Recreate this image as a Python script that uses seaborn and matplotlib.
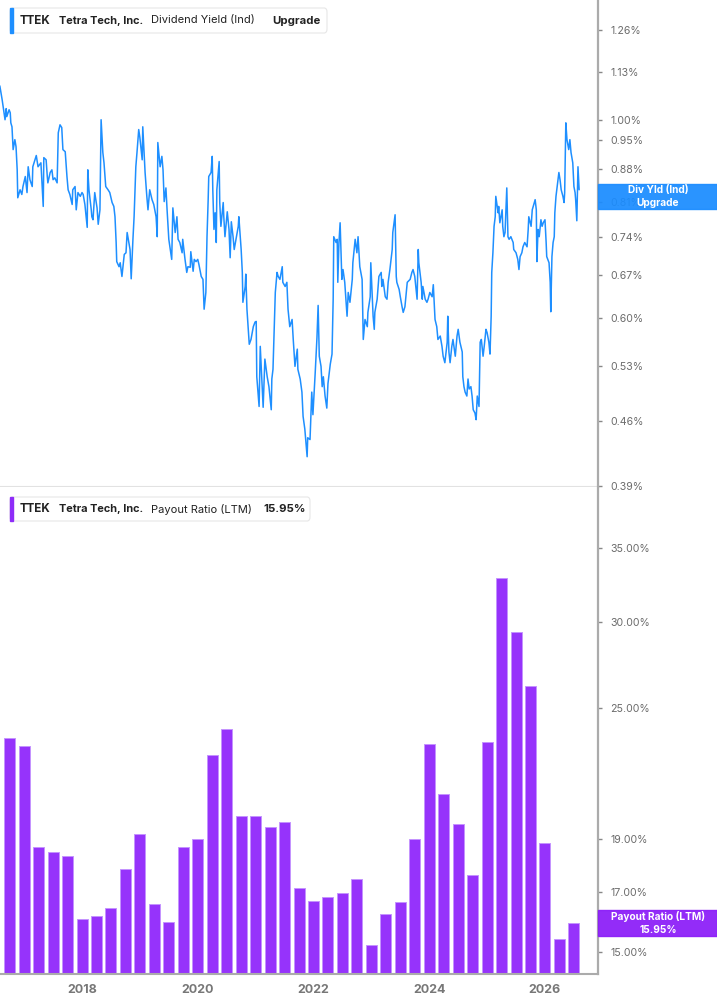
import pandas as pd
import seaborn as sns
import matplotlib.pyplot as plt
from matplotlib.patches import FancyBboxPatch, Rectangle
from matplotlib.ticker import NullLocator

# dividend yield (%); dates as decimal years
yield_date = [
    2016.58, 2016.62, 2016.65, 2016.67, 2016.69, 2016.70, 2016.74, 2016.76, 2016.77, 2016.79,
    2016.81, 2016.84, 2016.86, 2016.88, 2016.89, 2016.93, 2016.96, 2016.98, 2017.02, 2017.05,
    2017.07, 2017.10, 2017.14, 2017.15, 2017.21, 2017.24, 2017.29, 2017.33, 2017.34, 2017.38,
    2017.40, 2017.41, 2017.45, 2017.48, 2017.50, 2017.53, 2017.57, 2017.59, 2017.62, 2017.65,
    2017.67, 2017.71, 2017.74, 2017.76, 2017.79, 2017.83, 2017.84, 2017.88, 2017.90, 2017.93,
    2017.97, 2018.00, 2018.02, 2018.05, 2018.09, 2018.10, 2018.12, 2018.16, 2018.17, 2018.19,
    2018.22, 2018.26, 2018.28, 2018.31, 2018.33, 2018.36, 2018.38, 2018.41, 2018.45, 2018.48,
    2018.52, 2018.55, 2018.57, 2018.59, 2018.60, 2018.64, 2018.66, 2018.69, 2018.73, 2018.76,
    2018.78, 2018.81, 2018.83, 2018.85, 2018.88, 2018.90, 2018.93, 2018.95, 2018.98, 2019.00,
    2019.04, 2019.05, 2019.09, 2019.12, 2019.14, 2019.17, 2019.21, 2019.24, 2019.28, 2019.30,
    2019.31, 2019.35, 2019.38, 2019.40, 2019.42, 2019.45, 2019.47, 2019.50, 2019.55, 2019.57,
    2019.61, 2019.64, 2019.66, 2019.69, 2019.73, 2019.74, 2019.78, 2019.81, 2019.83, 2019.87,
    2019.88, 2019.92, 2019.94, 2019.97, 2020.00, 2020.02, 2020.06, 2020.09, 2020.11, 2020.14,
    2020.16, 2020.18, 2020.19, 2020.23, 2020.25, 2020.26, 2020.28, 2020.30, 2020.32, 2020.33,
    2020.37, 2020.38, 2020.40, 2020.44, 2020.45, 2020.47, 2020.51, 2020.54, 2020.56, 2020.58,
    2020.61, 2020.63, 2020.66, 2020.70, 2020.71, 2020.75, 2020.77, 2020.78, 2020.82, 2020.83,
    2020.85, 2020.89, 2020.92, 2020.96, 2020.99, 2021.01, 2021.02, 2021.06, 2021.08, 2021.11,
    2021.13, 2021.16, 2021.20, 2021.23, 2021.27, 2021.28, 2021.30, 2021.34, 2021.37, 2021.39,
    2021.42, 2021.46, 2021.47, 2021.51, 2021.54, 2021.56, 2021.59, 2021.63, 2021.65, 2021.68,
    2021.72, 2021.73, 2021.77, 2021.80, 2021.82, 2021.85, 2021.89, 2021.90, 2021.94, 2021.97,
    2021.99, 2022.03, 2022.06, 2022.08, 2022.10, 2022.13, 2022.15, 2022.17, 2022.20, 2022.23,
    2022.25, 2022.29, 2022.32, 2022.34, 2022.35, 2022.39, 2022.41, 2022.42, 2022.44, 2022.46,
    2022.49, 2022.51, 2022.54, 2022.58, 2022.60, 2022.63, 2022.67, 2022.68, 2022.72, 2022.75,
    2022.77, 2022.80, 2022.84, 2022.86, 2022.89, 2022.93, 2022.94, 2022.98, 2022.99, 2023.03,
    2023.05, 2023.06, 2023.10, 2023.13, 2023.17, 2023.18, 2023.20, 2023.24, 2023.27, 2023.29,
    2023.32, 2023.36, 2023.37, 2023.41, 2023.43, 2023.44, 2023.48, 2023.50, 2023.53, 2023.55,
    2023.58, 2023.62, 2023.63, 2023.67, 2023.70, 2023.72, 2023.75, 2023.79, 2023.81, 2023.82,
    2023.86, 2023.88, 2023.89, 2023.93, 2023.96, 2023.98, 2024.01, 2024.05, 2024.07, 2024.10,
    2024.13, 2024.15, 2024.19, 2024.22, 2024.24, 2024.27, 2024.31, 2024.32, 2024.34, 2024.36,
    2024.39, 2024.41, 2024.45, 2024.48, 2024.50, 2024.53, 2024.57, 2024.58, 2024.60, 2024.62,
    2024.65, 2024.67, 2024.69, 2024.72, 2024.74, 2024.76, 2024.79, 2024.81, 2024.83, 2024.86,
    2024.88, 2024.90, 2024.93, 2024.95, 2024.98, 2025.00, 2025.03, 2025.05, 2025.07, 2025.08,
    2025.10, 2025.12, 2025.14, 2025.15, 2025.19, 2025.20, 2025.22, 2025.26, 2025.27, 2025.29,
    2025.31, 2025.34, 2025.36, 2025.38, 2025.41, 2025.45, 2025.46, 2025.50, 2025.53, 2025.55,
    2025.57, 2025.60, 2025.62, 2025.65, 2025.69, 2025.71, 2025.72, 2025.76, 2025.78, 2025.79,
    2025.83, 2025.85, 2025.86, 2025.88, 2025.90, 2025.93, 2025.95, 2025.97, 2026.00, 2026.02,
    2026.03, 2026.07, 2026.09, 2026.10, 2026.12, 2026.14, 2026.16, 2026.17, 2026.19, 2026.21,
    2026.24, 2026.26, 2026.28, 2026.31, 2026.33, 2026.34, 2026.36, 2026.38, 2026.41, 2026.43,
    2026.45, 2026.48, 2026.50, 2026.52, 2026.53, 2026.55, 2026.57, 2026.59,
]
yield_pct = [
    1.091, 1.053, 1.021, 1.000, 1.029, 1.008, 1.026, 1.018, 0.992, 0.982,
    0.926, 0.950, 0.933, 0.879, 0.818, 0.835, 0.825, 0.842, 0.864, 0.829,
    0.886, 0.857, 0.842, 0.886, 0.912, 0.886, 0.895, 0.800, 0.907, 0.902,
    0.864, 0.850, 0.873, 0.879, 0.857, 0.861, 0.850, 0.967, 0.987, 0.980,
    0.926, 0.921, 0.864, 0.835, 0.825, 0.804, 0.835, 0.842, 0.793, 0.829,
    0.821, 0.829, 0.825, 0.804, 0.758, 0.879, 0.835, 0.793, 0.779, 0.773,
    0.829, 0.797, 0.764, 0.793, 1.000, 0.919, 0.895, 0.842, 0.835, 0.829,
    0.808, 0.800, 0.779, 0.729, 0.694, 0.685, 0.692, 0.668, 0.707, 0.710,
    0.748, 0.729, 0.716, 0.664, 0.735, 0.779, 0.886, 0.919, 0.975, 0.955,
    0.902, 0.982, 0.873, 0.821, 0.793, 0.835, 0.814, 0.804, 0.779, 0.740,
    0.943, 0.886, 0.910, 0.879, 0.810, 0.839, 0.793, 0.735, 0.698, 0.797,
    0.748, 0.779, 0.735, 0.729, 0.710, 0.735, 0.698, 0.675, 0.685, 0.684,
    0.712, 0.677, 0.698, 0.694, 0.698, 0.689, 0.668, 0.663, 0.614, 0.641,
    0.740, 0.814, 0.864, 0.873, 0.910, 0.835, 0.754, 0.787, 0.729, 0.835,
    0.898, 0.808, 0.760, 0.808, 0.779, 0.740, 0.789, 0.754, 0.701, 0.769,
    0.740, 0.716, 0.735, 0.760, 0.779, 0.716, 0.675, 0.625, 0.651, 0.672,
    0.614, 0.561, 0.568, 0.587, 0.594, 0.595, 0.516, 0.478, 0.558, 0.509,
    0.477, 0.540, 0.516, 0.503, 0.474, 0.513, 0.526, 0.641, 0.675, 0.668,
    0.663, 0.685, 0.658, 0.651, 0.658, 0.614, 0.587, 0.598, 0.568, 0.530,
    0.554, 0.526, 0.513, 0.496, 0.466, 0.451, 0.420, 0.441, 0.439, 0.496,
    0.468, 0.522, 0.571, 0.620, 0.544, 0.530, 0.503, 0.516, 0.491, 0.476,
    0.507, 0.533, 0.547, 0.630, 0.740, 0.729, 0.735, 0.658, 0.729, 0.767,
    0.663, 0.680, 0.658, 0.603, 0.641, 0.625, 0.663, 0.692, 0.735, 0.710,
    0.740, 0.685, 0.663, 0.568, 0.598, 0.587, 0.609, 0.634, 0.692, 0.603,
    0.583, 0.609, 0.630, 0.668, 0.675, 0.651, 0.663, 0.634, 0.630, 0.658,
    0.680, 0.716, 0.748, 0.783, 0.668, 0.658, 0.646, 0.634, 0.618, 0.609,
    0.618, 0.658, 0.659, 0.663, 0.675, 0.680, 0.668, 0.630, 0.716, 0.692,
    0.658, 0.630, 0.651, 0.630, 0.625, 0.630, 0.641, 0.634, 0.654, 0.598,
    0.587, 0.568, 0.573, 0.558, 0.544, 0.535, 0.564, 0.603, 0.550, 0.535,
    0.558, 0.568, 0.544, 0.573, 0.583, 0.564, 0.550, 0.516, 0.503, 0.496,
    0.491, 0.513, 0.500, 0.503, 0.491, 0.474, 0.470, 0.462, 0.491, 0.478,
    0.564, 0.568, 0.544, 0.558, 0.583, 0.578, 0.564, 0.547, 0.603, 0.675,
    0.710, 0.760, 0.779, 0.821, 0.787, 0.800, 0.767, 0.793, 0.760, 0.740,
    0.748, 0.839, 0.740, 0.735, 0.740, 0.729, 0.716, 0.710, 0.698, 0.680,
    0.703, 0.710, 0.721, 0.729, 0.721, 0.754, 0.779, 0.760, 0.793, 0.797,
    0.814, 0.793, 0.694, 0.754, 0.740, 0.773, 0.760, 0.767, 0.773, 0.729,
    0.703, 0.692, 0.658, 0.610, 0.703, 0.729, 0.740, 0.787, 0.821, 0.842,
    0.873, 0.857, 0.835, 0.821, 0.808, 0.829, 0.992, 0.950, 0.926, 0.950,
    0.919, 0.895, 0.842, 0.829, 0.814, 0.771, 0.886, 0.835,
]

# quarterly payout ratio (LTM, %)
payout_date = [
    2016.75, 2017.00, 2017.25, 2017.50, 2017.75, 2018.00, 2018.25, 2018.50, 2018.75, 2019.00,
    2019.25, 2019.50, 2019.75, 2020.00, 2020.25, 2020.50, 2020.75, 2021.00, 2021.25, 2021.50,
    2021.75, 2022.00, 2022.25, 2022.50, 2022.75, 2023.00, 2023.25, 2023.50, 2023.75, 2024.00,
    2024.25, 2024.50, 2024.75, 2025.00, 2025.25, 2025.50, 2025.75, 2026.00, 2026.25, 2026.50,
]
payout_pct = [
    23.52, 23.11, 18.71, 18.50, 18.36, 16.08, 16.17, 16.45, 17.86, 19.20,
    16.58, 15.97, 18.69, 19.01, 22.68, 23.96, 19.95, 19.94, 19.50, 19.70,
    17.17, 16.71, 16.83, 16.97, 17.50, 15.23, 16.24, 16.66, 19.03, 23.19,
    20.88, 19.61, 17.62, 23.30, 32.89, 29.33, 26.21, 18.84, 15.42, 15.95,
]

yield_ticks = [0.39, 0.46, 0.53, 0.60, 0.67, 0.74, 0.81, 0.88, 0.95, 1.00, 1.13, 1.26]
payout_ticks = [15, 17, 19, 25, 30, 35]
year_ticks = [2018, 2020, 2022, 2024, 2026]

BLUE = '#1e8fff'
PURPLE = '#9633fb'

sns.set_style("white")
plt.rcParams['font.family'] = ['Inter', 'DejaVu Sans']

W, H = 717, 1005
fig = plt.figure(figsize=(W / 100, H / 100), dpi=100)


def fx(x):
    return x / W


def fy(y):
    return 1 - y / H


ax1 = fig.add_axes([0, fy(487), fx(598), 487 / H])
ax2 = fig.add_axes([0, fy(974), fx(598), (974 - 487) / H])

# top: dividend yield line
sns.lineplot(x=yield_date, y=yield_pct, ax=ax1, color=BLUE, linewidth=1.1, estimator=None)
ax1.set_yscale('log')
ax1.set_ylim(0.3885, 1.361)
ax1.set_xlim(2016.583, 2026.916)
ax1.set_xticks([])

# bottom: payout ratio bars
payout = pd.DataFrame({'date': payout_date, 'pct': payout_pct})
sns.barplot(data=payout, x='date', y='pct', ax=ax2, native_scale=True, width=0.76,
            color=PURPLE, saturation=1, edgecolor='#c493ff', linewidth=0.7)
ax2.set_yscale('log')
ax2.set_ylim(14.33, 39.77)
ax2.set_xlim(2016.583, 2026.916)
ax2.set_xticks(year_ticks, [str(y) for y in year_ticks])
ax2.tick_params(axis='x', direction='out', length=4, width=1, color='#999999', pad=3,
                labelsize=9, labelcolor='#777777')
for lab in ax2.get_xticklabels():
    lab.set_fontweight('bold')

for ax, ticks, fmt in ((ax1, yield_ticks, "{:.2f}%"), (ax2, payout_ticks, "{:.2f}%")):
    ax.set_xlabel('')
    ax.set_ylabel('')
    ax.yaxis.tick_right()
    ax.set_yticks(ticks, [fmt.format(t) for t in ticks])
    ax.yaxis.set_minor_locator(NullLocator())
    ax.tick_params(axis='y', which='major', direction='out', length=3, width=1,
                   color='#888888', pad=6, labelsize=7.6, labelcolor='#6b6b6b',
                   right=True, left=False, labelright=True, labelleft=False)
    ax.spines['left'].set_visible(False)
    ax.spines['top'].set_visible(False)
    ax.spines['right'].set_color('#ababab')
    ax.spines['right'].set_linewidth(1.6)
    ax.set_facecolor('white')

ax1.spines['bottom'].set_color('#e2e2e2')
ax1.spines['bottom'].set_linewidth(1.5)
ax2.spines['bottom'].set_color('#ababab')
ax2.spines['bottom'].set_linewidth(1.5)


def legend_box(x0, y0, x1, y1, accent, parts):
    box = FancyBboxPatch((fx(x0), fy(y1)), fx(x1 - x0), (y1 - y0) / H,
                         boxstyle="round,pad=0,rounding_size=0.004",
                         transform=fig.transFigure, facecolor='white',
                         edgecolor='#e6e6e6', linewidth=0.8, zorder=5)
    fig.add_artist(box)
    fig.add_artist(Rectangle((fx(x0), fy(y1)), fx(3), (y1 - y0) / H,
                             transform=fig.transFigure, color=accent, zorder=6))
    yc = (y0 + y1) / 2
    for x, s, w, size in parts:
        fig.text(fx(x), fy(yc), s, fontsize=size, fontweight=w, color='#222222',
                 ha='left', va='center', zorder=7)


legend_box(10, 8, 327, 33, BLUE, [
    (20, "TTEK", 'bold', 8.4), (59, "Tetra Tech, Inc.", 'bold', 7.9),
    (151, "Dividend Yield (Ind)", 'normal', 8.0), (272, "Upgrade", 'bold', 8.2)])
legend_box(10, 497, 310, 521, '#8e2cf8', [
    (20, "TTEK", 'bold', 8.4), (59, "Tetra Tech, Inc.", 'bold', 7.9),
    (151, "Payout Ratio (LTM)", 'normal', 8.0), (263, "15.95%", 'bold', 8.2)])


def side_label(y0, y1, color, lines):
    fig.add_artist(Rectangle((fx(598), fy(y1)), fx(717 - 598), (y1 - y0) / H,
                             transform=fig.transFigure, color=color, alpha=0.93, zorder=8))
    step = (y1 - y0) / 2
    for i, s in enumerate(lines):
        fig.text(fx(658), fy(y0 + step * (i + 0.5)), s, fontsize=7.3, fontweight='bold',
                 color='white', ha='center', va='center', zorder=9)


side_label(184, 209, '#1a8cff', ["Div Yld (Ind)", "Upgrade"])
side_label(910, 936, '#8b1cf8', ["Payout Ratio (LTM)", "15.95%"])

fig.savefig("out.png", dpi=100, facecolor='white')
